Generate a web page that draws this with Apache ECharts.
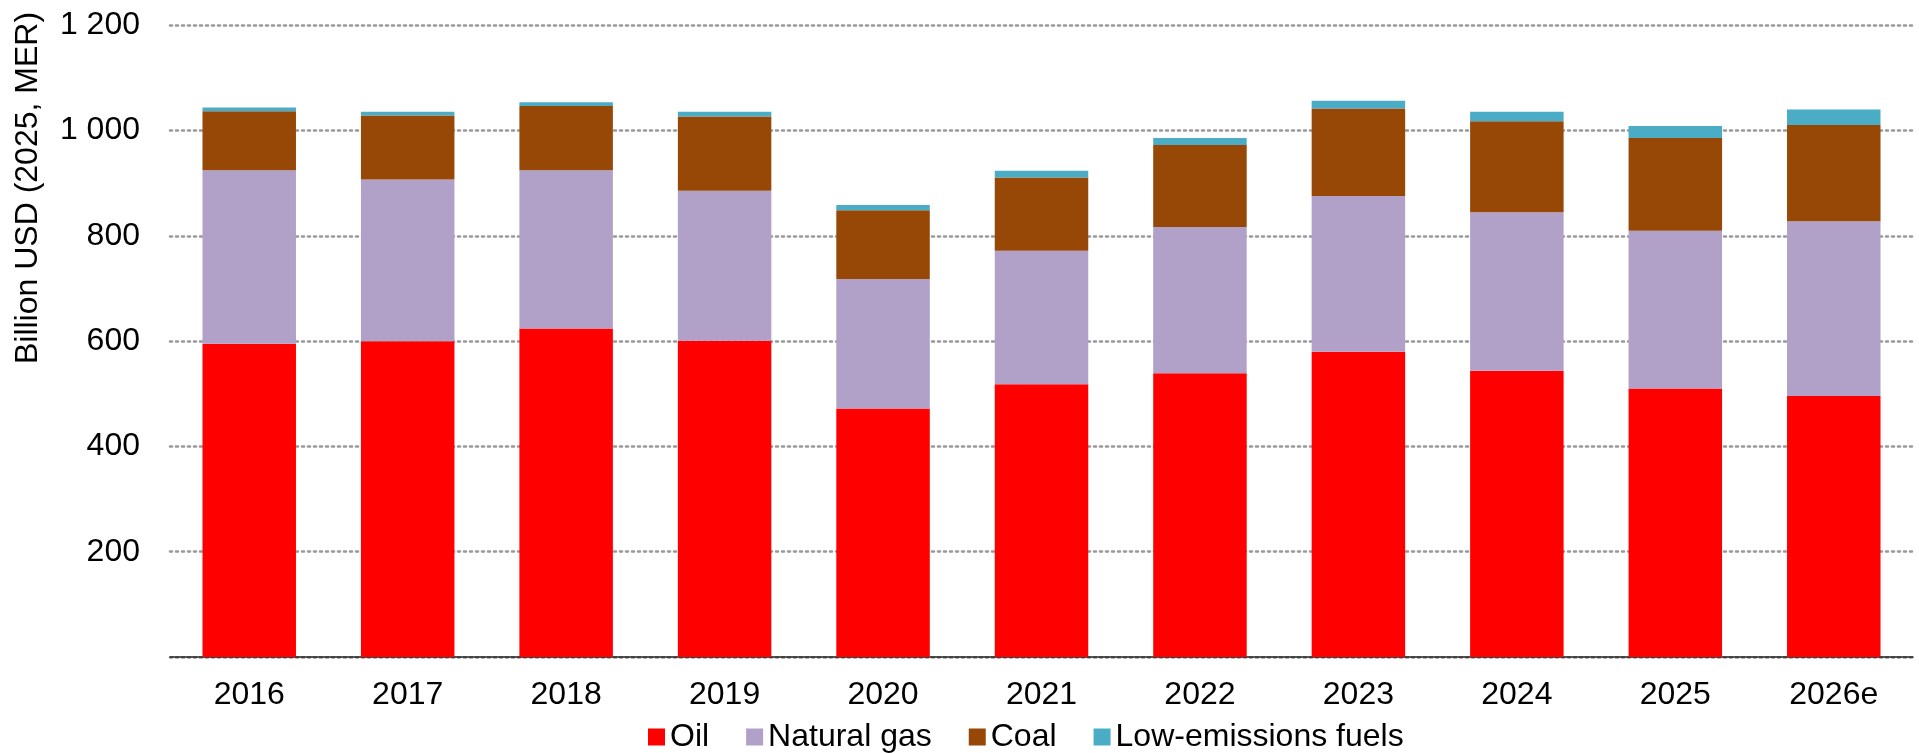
<!DOCTYPE html>
<html>
<head>
<meta charset="utf-8">
<script src="https://cdn.jsdelivr.net/npm/echarts@6/dist/echarts.min.js"></script>
<style>
  html, body { margin: 0; padding: 0; background: #fff; }
  #chart { width: 1919px; height: 753px; }
</style>
</head>
<body>
<div id="chart"></div>
<script>
  const years = ['2016', '2017', '2018', '2019', '2020', '2021', '2022', '2023', '2024', '2025', '2026e']
  const oil = [595, 600, 624, 601, 472, 518, 539, 580, 544, 510, 496]
  const naturalGas = [330, 307, 301, 285, 246, 254, 278, 296, 301, 300, 332]
  const coal = [112, 122, 122, 141, 131, 139, 156, 166, 173, 176, 183]
  const lowEmissions = [7, 7, 7, 9, 10, 13, 13, 15, 18, 23, 29]

  const font = 'Liberation Sans, Arial, sans-serif'

  let myChart = echarts.init(document.getElementById('chart'))

  function bar(name, data, color) {
    return {
      name: name,
      type: 'bar',
      stack: 'total',
      barWidth: '59%',
      data: data,
      itemStyle: { color: color },
      emphasis: { disabled: true }
    }
  }

  let option = {
    animation: false,
    textStyle: { fontFamily: font },
    grid: { left: 170, right: 6, top: 25.4, bottom: 96 },
    legend: {
      left: 643,
      top: 716,
      itemWidth: 17,
      itemHeight: 17,
      itemGap: 37,
      icon: 'rect',
      textStyle: { fontSize: 32, color: '#000', fontFamily: font, padding: [0, 0, 0, 0] },
      data: ['Oil', 'Natural gas', 'Coal', 'Low-emissions fuels']
    },
    graphic: [{
      type: 'text',
      x: 28,
      y: 188,
      rotation: Math.PI / 2,
      style: {
        text: 'Billion USD (2025, MER)',
        fontSize: 32,
        fontFamily: font,
        fill: '#000',
        textAlign: 'center',
        textVerticalAlign: 'middle'
      }
    }],
    xAxis: {
      type: 'category',
      data: years,
      axisTick: { show: false },
      axisLine: { lineStyle: { color: '#222', width: 1.5 } },
      axisLabel: { fontSize: 32, color: '#000', margin: 22, fontFamily: font }
    },
    yAxis: {
      type: 'value',
      min: 0,
      max: 1200,
      interval: 200,
      axisLine: { show: false },
      axisTick: { show: false },
      axisLabel: {
        fontSize: 32,
        color: '#000',
        margin: 30,
        fontFamily: font,
        formatter: v => v === 0 ? '' : String(v).replace(/\B(?=(\d{3})+(?!\d))/g, ' ')
      },
      splitLine: { lineStyle: { type: [2, 4], color: '#999', width: 2.5, cap: 'round' } }
    },
    series: [
      bar('Oil', oil, '#FF0000'),
      bar('Natural gas', naturalGas, '#B1A0C7'),
      bar('Coal', coal, '#974706'),
      bar('Low-emissions fuels', lowEmissions, '#4BACC6')
    ]
  }

  myChart.setOption(option)
  window.addEventListener('resize', myChart.resize)
</script>
</body>
</html>
